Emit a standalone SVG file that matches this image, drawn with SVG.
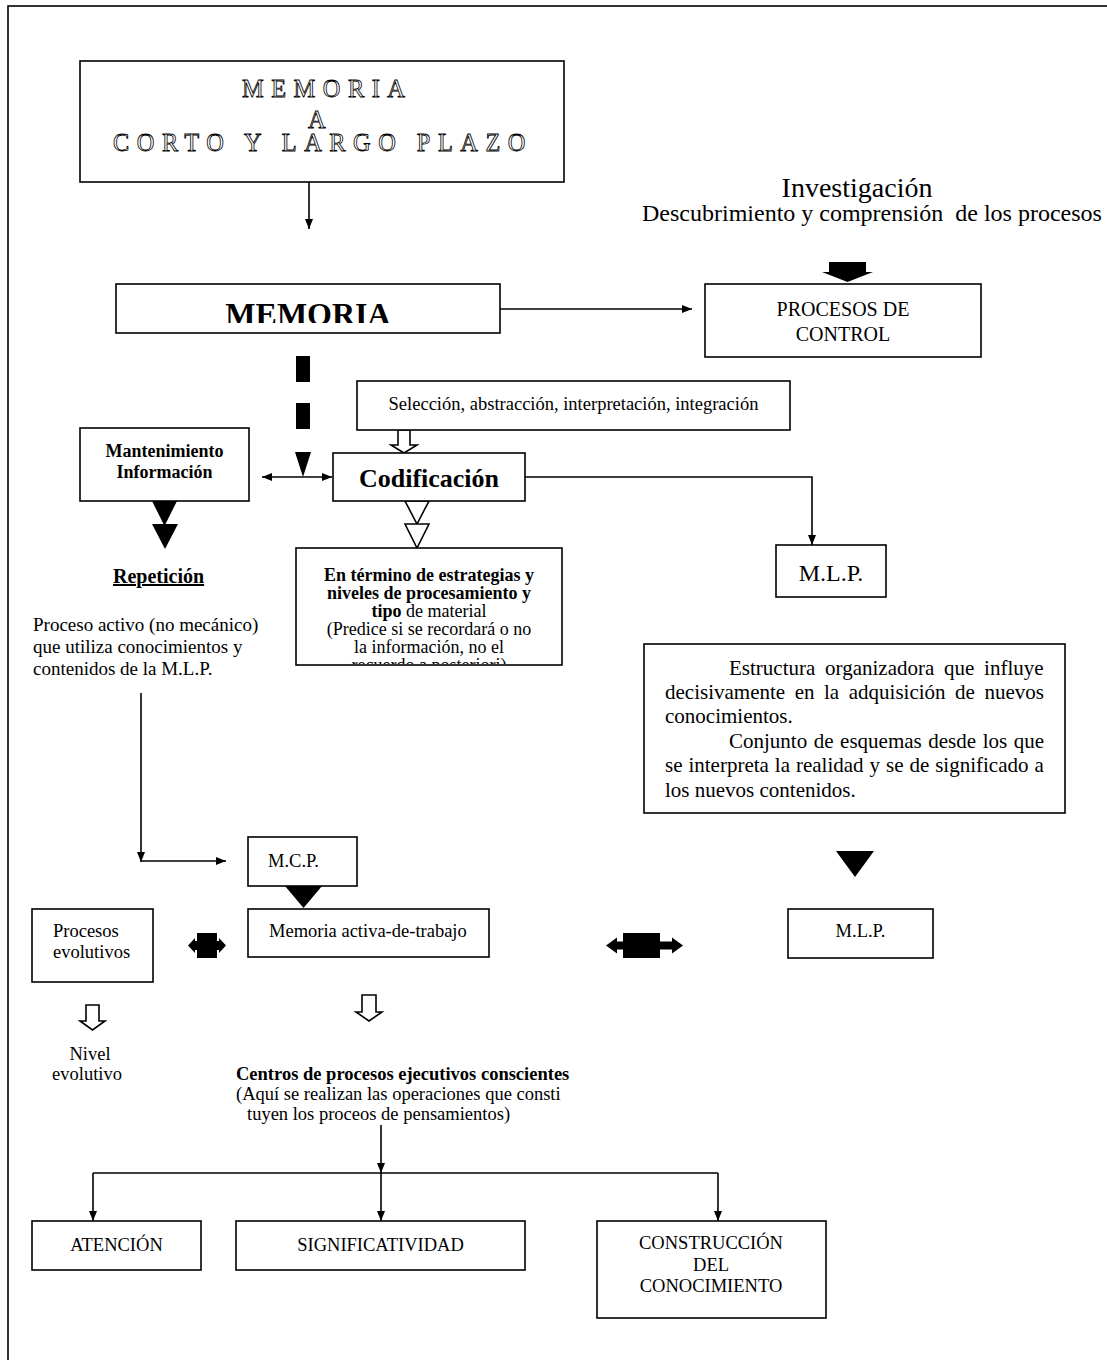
<svg xmlns="http://www.w3.org/2000/svg" width="1107" height="1360" viewBox="0 0 1107 1360">
  <style>
    .box { fill: #fff; stroke: #000; stroke-width: 1.6; }
    .t { font-family: "Liberation Serif", "Times New Roman", serif; fill: #000; font-size: 18.5px; }
    .b { font-weight: bold; }
    .mid { text-anchor: middle; }
    .ln { stroke: #000; stroke-width: 1.6; fill: none; }
    .solid { fill: #000; stroke: none; }
    .hollow { fill: #fff; stroke: #000; stroke-width: 1.6; stroke-linejoin: miter; }
    .outline { font-family: "Liberation Serif", "Times New Roman", serif; font-size: 24.4px; letter-spacing: 7.5px; fill: #fff; stroke: #000; stroke-width: 0.8; }
    .f18 { font-size: 18px; }
    .f19 { font-size: 19px; }
    .f20 { font-size: 20px; }
    .f21 { font-size: 21px; }
    .f24 { font-size: 24px; }
    .f26 { font-size: 26px; }
    .f28 { font-size: 28px; }
    .f32 { font-size: 32px; }
  </style>
  <defs>
    <marker id="ah" viewBox="0 0 10 8" refX="10" refY="4" markerWidth="10" markerHeight="8" markerUnits="userSpaceOnUse" orient="auto-start-reverse">
      <path d="M0,0 L10,4 L0,8 Z" fill="#000"/>
    </marker>
    <clipPath id="clipMemoria"><rect x="116" y="284" width="384" height="39"/></clipPath>
    <clipPath id="clipTermino"><rect x="296" y="548" width="266" height="116"/></clipPath>
  </defs>

  <rect width="1107" height="1360" fill="#fff"/>
  <!-- page frame -->
  <rect x="8" y="6" width="1120" height="1400" fill="none" stroke="#000" stroke-width="1.6"/>

  <!-- connectors -->
  <g id="connectors">
    <line class="ln" x1="309" y1="182" x2="309" y2="229" marker-end="url(#ah)"/>
    <line class="ln" x1="500" y1="309" x2="692" y2="309" marker-end="url(#ah)"/>
    <!-- block arrow under Investigación -->
    <path class="solid" d="M829,262 L866,262 L866,272 L873,272 L847.5,282 L822,272 L829,272 Z"/>
    <!-- dashed heavy arrow from MEMORIA -->
    <rect class="solid" x="296" y="356" width="14" height="26"/>
    <rect class="solid" x="296" y="403" width="14" height="26"/>
    <path class="solid" d="M295,452 L311,452 L303,477 Z"/>
    <!-- two-way arrow Mantenimiento / Codificación -->
    <line class="ln" x1="262" y1="477" x2="332" y2="477" marker-start="url(#ah)" marker-end="url(#ah)"/>
    <!-- hollow arrow Selección -> Codificación -->
    <path class="hollow" d="M398,430 L410,430 L410,445 L417,445 L404,453 L391,445 L398,445 Z"/>
    <!-- Codificación -> M.L.P. -->
    <path class="ln" d="M525,477 L812,477 L812,545" marker-end="url(#ah)"/>
    <!-- open triangles under Codificación -->
    <path class="hollow" d="M405,501 L429,501 L417,524 Z"/>
    <path class="hollow" d="M405,524 L429,524 L417,548 Z"/>
    <!-- solid triangles under Mantenimiento -->
    <path class="solid" d="M152,501 L177,501 L164.5,526 Z"/>
    <path class="solid" d="M152,524 L178,524 L165,549 Z"/>
    <!-- Repetición path -> M.C.P. -->
    <line class="ln" x1="141" y1="693" x2="141" y2="862" marker-end="url(#ah)"/>
    <line class="ln" x1="141" y1="861" x2="226" y2="861" marker-end="url(#ah)"/>
    <!-- M.C.P. -> Memoria activa -->
    <path class="solid" d="M285,886 L322,886 L303.5,908 Z"/>
    <!-- structure -> M.L.P. -->
    <path class="solid" d="M836,851 L874,851 L855,877 Z"/>
    <!-- two-way block arrows -->
    <path class="solid" d="M188,945.5 L195,938 L195,941 L197,941 L197,933 L217,933 L217,941 L219,941 L219,938 L226,945.5 L219,953 L219,950 L217,950 L217,958 L197,958 L197,950 L195,950 L195,953 Z"/>
    <path class="solid" d="M606,945.5 L617,937.5 L617,941.5 L623,941.5 L623,933 L660,933 L660,941.5 L672,941.5 L672,937.5 L683,945.5 L672,953.5 L672,949.5 L660,949.5 L660,958 L623,958 L623,949.5 L617,949.5 L617,953.5 Z"/>
    <!-- hollow arrows to lower texts -->
    <path class="hollow" d="M86,1005 L99,1005 L99,1021 L105,1021 L92.5,1030 L80,1021 L86,1021 Z"/>
    <path class="hollow" d="M362,995 L376,995 L376,1012 L382,1012 L369,1021 L356,1012 L362,1012 Z"/>
    <!-- distribution to the three final boxes -->
    <line class="ln" x1="381" y1="1125" x2="381" y2="1173" marker-end="url(#ah)"/>
    <path class="ln" d="M93,1173 L718,1173"/>
    <line class="ln" x1="93" y1="1173" x2="93" y2="1221" marker-end="url(#ah)"/>
    <line class="ln" x1="381" y1="1173" x2="381" y2="1221" marker-end="url(#ah)"/>
    <line class="ln" x1="718" y1="1173" x2="718" y2="1221" marker-end="url(#ah)"/>
  </g>

  <g id="memoria-corto-largo">
    <rect class="box" x="80" y="61" width="484" height="121"/>
    <text class="outline" x="242" y="97">MEMORIA</text>
    <text class="outline" x="308" y="128">A</text>
    <text class="outline" x="113" y="151">CORTO Y LARGO PLAZO</text>
  </g>

  <g id="memoria">
    <rect class="box" x="116" y="284" width="384" height="49"/>
    <text class="t b mid f32" x="308" y="325" clip-path="url(#clipMemoria)">MEMORIA</text>
  </g>

  <g id="investigacion">
    <text class="t mid f28" x="857" y="197">Investigación</text>
    <text class="t f24" x="642" y="221" xml:space="preserve">Descubrimiento y comprensión  de los procesos</text>
  </g>

  <g id="procesos-control">
    <rect class="box" x="705" y="284" width="276" height="73"/>
    <text class="t mid f20" x="843" y="316">PROCESOS DE</text>
    <text class="t mid f20" x="843" y="341">CONTROL</text>
  </g>

  <g id="seleccion">
    <rect class="box" x="357" y="381" width="433" height="49"/>
    <text class="t mid" x="573.5" y="410">Selección, abstracción, interpretación, integración</text>
  </g>

  <g id="mantenimiento">
    <rect class="box" x="80" y="428" width="169" height="73"/>
    <text class="t b mid f18" x="164.5" y="457">Mantenimiento</text>
    <text class="t b mid f18" x="164.5" y="478">Información</text>
  </g>

  <g id="codificacion">
    <rect class="box" x="333" y="453" width="192" height="48"/>
    <text class="t b mid f26" x="429" y="487">Codificación</text>
  </g>

  <g id="mlp-superior">
    <rect class="box" x="776" y="545" width="110" height="52"/>
    <text class="t mid f24" x="831" y="581">M.L.P.</text>
  </g>

  <g id="termino">
    <rect class="box" x="296" y="548" width="266" height="117"/>
    <g clip-path="url(#clipTermino)">
      <text class="t b mid f18" x="429" y="581">En término de estrategias y</text>
      <text class="t b mid f18" x="429" y="599">niveles de procesamiento y</text>
      <text class="t mid f18" x="429" y="617"><tspan font-weight="bold">tipo</tspan> de material</text>
      <text class="t mid f18" x="429" y="635">(Predice si se recordará o no</text>
      <text class="t mid f18" x="429" y="653">la información, no el</text>
      <text class="t mid f18" x="429" y="671">recuerdo a posteriori)</text>
    </g>
  </g>

  <g id="repeticion">
    <text class="t b f20" x="113" y="583" text-decoration="underline">Repetición</text>
    <text class="t f19" x="33" y="631">Proceso activo (no mecánico)</text>
    <text class="t f19" x="33" y="653">que utiliza conocimientos y</text>
    <text class="t f19" x="33" y="675">contenidos de la M.L.P.</text>
  </g>

  <g id="estructura">
    <rect class="box" x="644" y="644" width="421" height="169"/>
    <text class="t f21" x="729" y="675" word-spacing="4.5">Estructura organizadora que influye</text>
    <text class="t f21" x="665" y="699" word-spacing="4.3">decisivamente en la adquisición de nuevos</text>
    <text class="t f21" x="665" y="723">conocimientos.</text>
    <text class="t f21" x="729" y="748" word-spacing="1.3">Conjunto de esquemas desde los que</text>
    <text class="t f21" x="665" y="772" word-spacing="0.7">se interpreta la realidad y se de significado a</text>
    <text class="t f21" x="665" y="797">los nuevos contenidos.</text>
  </g>

  <g id="mcp">
    <rect class="box" x="248" y="837" width="109" height="49"/>
    <text class="t" x="268" y="867">M.C.P.</text>
  </g>

  <g id="memoria-activa">
    <rect class="box" x="248" y="909" width="241" height="48"/>
    <text class="t" x="269" y="937">Memoria activa-de-trabajo</text>
  </g>

  <g id="procesos-evolutivos">
    <rect class="box" x="32" y="909" width="121" height="73"/>
    <text class="t" x="53" y="937">Procesos</text>
    <text class="t" x="53" y="958">evolutivos</text>
  </g>

  <g id="mlp-inferior">
    <rect class="box" x="788" y="909" width="145" height="49"/>
    <text class="t mid" x="860.5" y="937">M.L.P.</text>
  </g>

  <g id="nivel-evolutivo">
    <text class="t mid" x="90" y="1060">Nivel</text>
    <text class="t mid" x="87" y="1080">evolutivo</text>
  </g>

  <g id="centros">
    <text class="t b" x="236" y="1080">Centros de procesos ejecutivos conscientes</text>
    <text class="t" x="236" y="1100">(Aquí se realizan las operaciones que consti</text>
    <text class="t" x="247" y="1120">tuyen los proceos de pensamientos)</text>
  </g>

  <g id="atencion">
    <rect class="box" x="32" y="1221" width="169" height="49"/>
    <text class="t mid" x="116.5" y="1251">ATENCIÓN</text>
  </g>

  <g id="significatividad">
    <rect class="box" x="236" y="1221" width="289" height="49"/>
    <text class="t mid" x="380.5" y="1251">SIGNIFICATIVIDAD</text>
  </g>

  <g id="construccion">
    <rect class="box" x="597" y="1221" width="229" height="97"/>
    <text class="t mid" x="711" y="1249">CONSTRUCCIÓN</text>
    <text class="t mid" x="711" y="1271">DEL</text>
    <text class="t mid" x="711" y="1292">CONOCIMIENTO</text>
  </g>
</svg>
